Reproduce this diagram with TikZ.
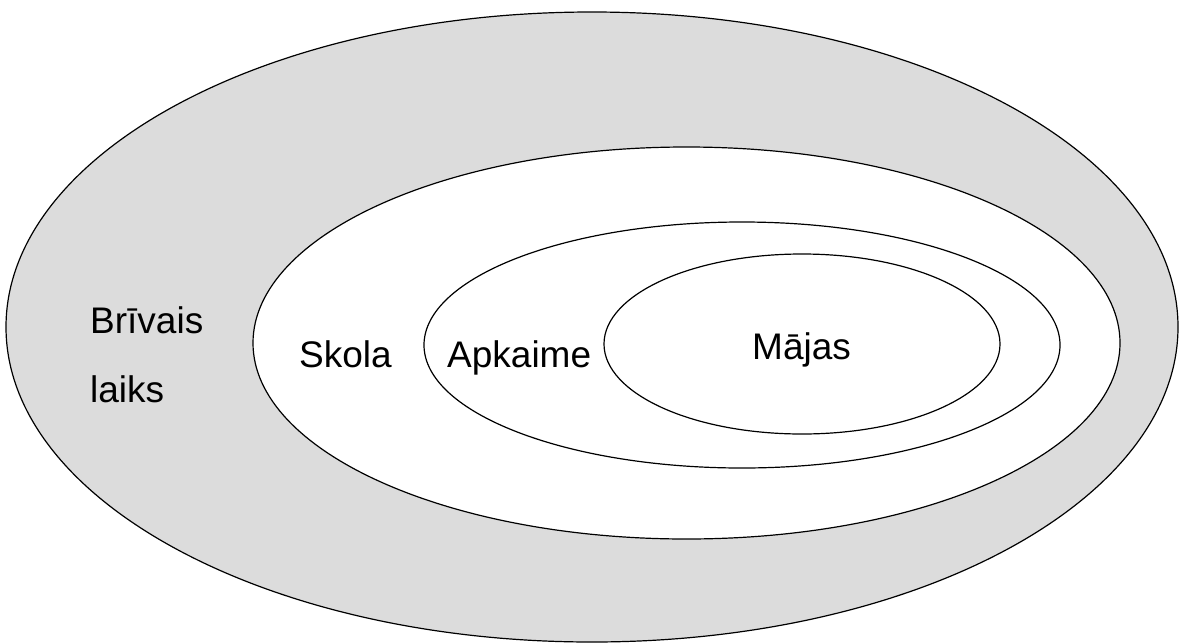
\documentclass[tikz,border=0pt]{standalone}
\usepackage{fontspec}
\setmainfont{Liberation Sans}
\usetikzlibrary{shapes.geometric}
\definecolor{ringgray}{RGB}{220,220,220}
\tikzset{
  ring/.style={ellipse, draw=black, line width=1.2pt, inner sep=0pt, outer sep=0pt},
  lbl/.style={anchor=base west, inner sep=0pt, font=\fontsize{37}{44}\selectfont}
}
\begin{document}
\begin{tikzpicture}[x=1pt,y=-1pt]
\useasboundingbox (0,0) rectangle (1180,643);
\node[ring, fill=ringgray, minimum width=1172pt, minimum height=630pt] (outer) at (592,327) {};
\node[ring, fill=white, minimum width=867pt, minimum height=392pt] (skola) at (686.5,343) {};
\node[ring, fill=white, minimum width=636pt, minimum height=246pt] (apk) at (742,345) {};
\node[ring, fill=white, minimum width=396pt, minimum height=180pt] (majas) at (802,344) {};
\node[lbl] (t1) at (90,333) {Brīvais};
\node[lbl] (t2) at (90,402) {laiks};
\node[lbl] (t3) at (299,367) {Skola};
\node[lbl] (t4) at (447,367) {Apkaime};
\node[lbl] (t5) at (752,359) {Mājas};
\end{tikzpicture}
\end{document}
